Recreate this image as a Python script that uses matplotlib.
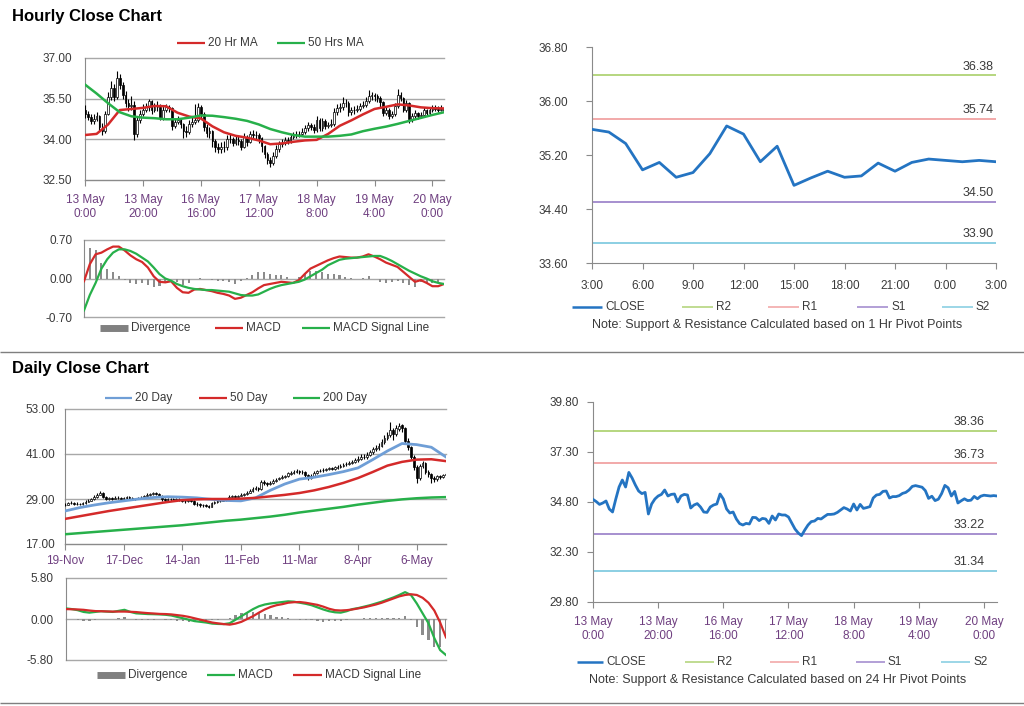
import matplotlib
matplotlib.use("Agg")
import matplotlib.pyplot as plt
from matplotlib.lines import Line2D
from matplotlib.ticker import FormatStrFormatter
import numpy as np

plt.rcParams['font.family'] = ['Liberation Sans', 'DejaVu Sans']

# ---------------- hourly data (13 May 0:00 .. 20 May ~4:00) ----------------
hourly_ticks = ["13 May\n0:00", "13 May\n20:00", "16 May\n16:00", "17 May\n12:00",
                "18 May\n8:00", "19 May\n4:00", "20 May\n0:00"]
hourly_first_open = 35.10
hourly_close = [
    34.93, 34.82, 34.68, 34.75, 34.85, 34.45, 34.30, 34.95, 35.55, 35.90,
    35.55, 36.28, 36.00, 35.65, 35.35, 35.22, 35.28, 34.20, 34.70, 34.95,
    35.10, 35.18, 35.40, 35.10, 35.18, 35.20, 34.80, 35.10, 35.18, 35.15,
    34.50, 34.65, 34.72, 34.55, 34.30, 34.28, 34.55, 34.65, 34.70, 35.20,
    34.95, 34.45, 34.25, 34.30, 33.95, 33.72, 33.65, 33.73, 33.70, 34.03,
    34.02, 33.87, 33.98, 33.95, 33.73, 34.10, 33.90, 34.20, 34.15, 34.15,
    34.05, 33.75, 33.45, 33.25, 33.12, 33.40, 33.65, 33.82, 33.85, 33.98,
    33.95, 34.07, 34.18, 34.18, 34.20, 34.28, 34.40, 34.52, 34.45, 34.35,
    34.70, 34.40, 34.68, 34.48, 34.52, 34.57, 35.00, 35.15, 35.18, 35.33,
    35.35, 35.00, 35.07, 35.07, 35.12, 35.23, 35.28, 35.40, 35.58, 35.62,
    35.58, 35.54, 35.37, 34.98, 35.09, 34.87, 34.94, 35.22, 35.63, 35.51,
    35.10, 35.33, 34.75, 34.86, 34.96, 34.87, 34.89, 35.08, 34.96, 35.09,
    35.14, 35.12, 35.10, 35.12, 35.10]
hourly_high = [
    35.28, 35.05, 34.95, 34.92, 35.02, 34.90, 34.60, 35.05, 35.75, 36.15,
    36.05, 36.52, 36.40, 36.10, 35.80, 35.50, 35.60, 35.40, 34.85, 35.10,
    35.30, 35.35, 35.50, 35.45, 35.35, 35.40, 35.30, 35.25, 35.30, 35.28,
    35.20, 34.80, 34.85, 34.80, 34.62, 34.50, 34.70, 34.85, 35.30, 35.33,
    35.25, 35.00, 34.55, 34.45, 34.35, 34.00, 33.85, 33.90, 33.95, 34.15,
    34.20, 34.10, 34.15, 34.12, 34.00, 34.22, 34.15, 34.30, 34.35, 34.30,
    34.25, 34.10, 33.80, 33.55, 33.35, 33.55, 33.80, 33.95, 34.00, 34.10,
    34.08, 34.20, 34.28, 34.30, 34.32, 34.40, 34.52, 34.65, 34.62, 34.55,
    34.85, 34.78, 34.80, 34.75, 34.65, 34.75, 35.15, 35.30, 35.35, 35.57,
    35.50, 35.40, 35.20, 35.22, 35.25, 35.35, 35.42, 35.55, 35.82, 35.75,
    35.72, 35.68, 35.60, 35.42, 35.20, 35.15, 35.05, 35.35, 35.84, 35.75,
    35.55, 35.45, 35.38, 34.98, 35.08, 35.02, 35.00, 35.18, 35.12, 35.20,
    35.25, 35.25, 35.22, 35.25, 35.22]
hourly_low = [
    34.80, 34.70, 34.55, 34.58, 34.66, 34.30, 34.15, 34.25, 34.90, 35.45,
    35.40, 35.50, 35.85, 35.50, 35.20, 35.05, 35.10, 33.97, 34.10, 34.60,
    34.85, 35.00, 35.05, 34.95, 35.00, 35.05, 34.70, 34.72, 35.00, 35.00,
    34.35, 34.40, 34.55, 34.40, 34.05, 34.10, 34.20, 34.45, 34.55, 34.65,
    34.80, 34.30, 34.10, 34.05, 33.70, 33.55, 33.48, 33.50, 33.55, 33.62,
    33.88, 33.75, 33.80, 33.80, 33.60, 33.68, 33.75, 33.85, 34.00, 34.00,
    33.85, 33.55, 33.30, 33.10, 32.99, 33.05, 33.30, 33.55, 33.70, 33.78,
    33.82, 33.88, 34.00, 34.05, 34.08, 34.12, 34.20, 34.32, 34.35, 34.22,
    34.28, 34.30, 34.32, 34.38, 34.40, 34.45, 34.50, 34.90, 35.02, 35.10,
    35.20, 34.85, 34.90, 34.95, 35.00, 35.05, 35.15, 35.20, 35.35, 35.45,
    35.42, 35.38, 35.20, 34.85, 34.88, 34.75, 34.78, 34.85, 35.15, 35.40,
    35.00, 35.02, 34.59, 34.65, 34.78, 34.75, 34.78, 34.82, 34.88, 34.90,
    35.02, 35.05, 35.02, 35.03, 35.02]

# moving averages, read every 4 hours
ma_hours = list(range(0, 125, 4))
ma_20h = [34.16, 34.20, 34.55, 35.08, 35.12, 35.16, 35.23, 35.22, 34.98, 34.84,
          34.77, 34.48, 34.26, 34.13, 34.06, 33.96, 33.82, 33.85, 33.91, 33.96,
          33.98, 34.20, 34.50, 34.70, 34.92, 35.12, 35.20, 35.29, 35.25, 35.18,
          35.15, 35.14]
ma_50h = [36.02, 35.69, 35.33, 35.00, 34.85, 34.80, 34.78, 34.74, 34.74, 34.80,
          34.88, 34.87, 34.82, 34.76, 34.68, 34.55, 34.38, 34.26, 34.16, 34.10,
          34.10, 34.10, 34.13, 34.18, 34.30, 34.39, 34.47, 34.57, 34.68, 34.79,
          34.90, 35.00]

# MACD, read every 2 hours
macd_hours = list(range(0, 125, 2))
hourly_macd = [-0.05, 0.26, 0.44, 0.47, 0.53, 0.58, 0.58, 0.51, 0.42, 0.35,
               0.30, 0.20, 0.04, -0.06, -0.07, -0.05, -0.17, -0.25, -0.26, -0.20,
               -0.19, -0.21, -0.23, -0.26, -0.28, -0.31, -0.37, -0.35, -0.30, -0.25,
               -0.18, -0.12, -0.10, -0.08, -0.06, -0.07, -0.08, -0.03, 0.08, 0.18,
               0.23, 0.28, 0.33, 0.37, 0.40, 0.39, 0.38, 0.38, 0.40, 0.44,
               0.40, 0.35, 0.29, 0.25, 0.21, 0.12, 0.03, -0.06, -0.03, -0.08,
               -0.14, -0.14, -0.10]
hourly_signal = [-0.58, -0.30, -0.08, 0.18, 0.35, 0.47, 0.53, 0.53, 0.50, 0.45,
                 0.38, 0.31, 0.20, 0.08, 0.00, -0.04, -0.10, -0.14, -0.17, -0.19,
                 -0.20, -0.21, -0.21, -0.22, -0.23, -0.24, -0.27, -0.30, -0.31, -0.31,
                 -0.29, -0.24, -0.19, -0.15, -0.12, -0.10, -0.08, -0.06, -0.02, 0.04,
                 0.10, 0.16, 0.24, 0.29, 0.34, 0.36, 0.37, 0.38, 0.39, 0.40,
                 0.41, 0.41, 0.37, 0.32, 0.26, 0.20, 0.14, 0.09, 0.04, 0.00,
                 -0.05, -0.08, -0.10]

# pivot charts
pivot_1h_ticks = ["3:00", "6:00", "9:00", "12:00", "15:00", "18:00", "21:00", "0:00", "3:00"]
pivot_1h_close = hourly_close[-25:]
pivot_1h_levels = [36.38, 35.74, 34.50, 33.90]
pivot_24h_levels = [38.36, 36.73, 33.22, 31.34]
level_names = ["R2", "R1", "S1", "S2"]

# ---------------- daily data (19-Nov .. 20-May) ----------------
daily_ticks = ["19-Nov", "17-Dec", "14-Jan", "11-Feb", "11-Mar", "8-Apr", "6-May"]
daily_first_open = 27.3
daily_close = [
    27.5, 27.9, 28.0, 27.7, 27.8, 27.6, 27.9, 28.3, 28.6, 29.0,
    29.6, 30.2, 30.6, 29.5, 29.0, 29.3, 29.1, 29.4, 29.2, 29.0,
    29.3, 29.5, 29.2, 29.0, 29.1, 29.3, 29.4, 29.8, 30.2, 30.3,
    30.5, 30.4, 29.9, 29.0, 28.7, 28.9, 29.1, 28.8, 29.0, 28.9,
    28.6, 28.4, 28.7, 28.5, 27.8, 27.6, 27.3, 27.5, 27.2, 27.0,
    27.9, 28.2, 28.4, 28.6, 28.8, 29.0, 29.6, 29.8, 29.5, 29.9,
    30.1, 30.3, 30.7, 31.2, 31.8, 32.0, 31.6, 33.6, 33.2, 33.0,
    33.4, 33.9, 34.2, 34.6, 34.9, 35.1, 35.8, 36.0, 36.2, 36.5,
    36.1, 36.3, 35.5, 34.7, 35.2, 36.0, 36.4, 36.6, 36.8, 37.0,
    37.2, 37.1, 37.4, 37.6, 37.9, 38.2, 38.4, 38.6, 38.9, 39.4,
    39.6, 40.3, 40.1, 40.8, 41.5, 42.2, 42.6, 43.1, 44.2, 45.3,
    46.0, 47.4, 46.2, 47.8, 48.6, 47.9, 44.5, 42.8, 40.3, 37.5,
    34.6, 37.8, 38.6, 36.2, 35.6, 34.6, 34.2, 35.0, 34.8, 35.3,
    35.6]
daily_high = [
    27.9, 28.3, 28.4, 28.2, 28.1, 28.0, 28.2, 28.7, 29.0, 29.4,
    30.0, 30.7, 31.2, 30.8, 29.8, 29.6, 29.6, 29.8, 29.7, 29.5,
    29.6, 29.9, 29.8, 29.5, 29.4, 29.6, 29.8, 30.2, 30.6, 30.7,
    31.0, 30.8, 30.6, 30.1, 29.2, 29.2, 29.4, 29.3, 29.3, 29.3,
    29.1, 28.9, 29.0, 28.9, 28.7, 28.1, 27.9, 27.8, 27.7, 27.4,
    28.2, 28.5, 28.7, 28.9, 29.1, 29.3, 30.0, 30.2, 30.1, 30.2,
    30.5, 30.7, 31.1, 31.7, 32.3, 32.5, 32.3, 34.1, 34.0, 33.6,
    33.8, 34.3, 34.6, 35.0, 35.3, 35.5, 36.2, 36.5, 36.7, 36.9,
    36.8, 36.7, 36.5, 35.8, 35.6, 36.4, 36.8, 37.0, 37.2, 37.4,
    37.6, 37.6, 37.8, 38.0, 38.4, 38.7, 38.9, 39.1, 39.4, 39.9,
    40.4, 41.1, 40.9, 41.5, 42.2, 42.9, 43.4, 43.9, 45.0, 46.2,
    47.0, 49.6, 48.0, 48.8, 49.3, 49.0, 48.2, 45.3, 43.2, 40.8,
    38.0, 38.4, 39.2, 38.9, 36.8, 35.9, 35.2, 35.4, 35.5, 35.8,
    36.1]
daily_low = [
    27.1, 27.3, 27.6, 27.4, 27.4, 27.3, 27.4, 27.7, 28.1, 28.4,
    28.8, 29.4, 30.0, 29.2, 28.7, 28.8, 28.8, 28.9, 28.9, 28.7,
    28.8, 29.1, 28.9, 28.7, 28.7, 28.9, 29.0, 29.2, 29.6, 29.9,
    30.1, 30.0, 29.5, 28.6, 28.3, 28.4, 28.6, 28.4, 28.5, 28.5,
    28.2, 28.0, 28.1, 28.1, 27.4, 27.2, 26.9, 27.0, 26.8, 26.6,
    26.8, 27.7, 28.0, 28.2, 28.4, 28.6, 28.8, 29.4, 29.2, 29.3,
    29.7, 29.9, 30.1, 30.5, 31.0, 31.5, 31.2, 31.4, 32.8, 32.5,
    32.7, 33.1, 33.6, 34.0, 34.3, 34.6, 34.9, 35.5, 35.7, 35.9,
    35.7, 35.8, 35.0, 34.2, 34.4, 35.0, 35.7, 36.1, 36.3, 36.5,
    36.7, 36.7, 36.8, 37.1, 37.3, 37.6, 37.9, 38.1, 38.3, 38.6,
    39.0, 39.3, 39.6, 39.8, 40.4, 41.1, 41.8, 42.2, 42.8, 43.8,
    44.8, 45.6, 44.8, 45.9, 47.2, 47.0, 43.8, 42.0, 39.6, 36.8,
    33.2, 34.2, 37.4, 35.6, 35.0, 33.4, 33.6, 33.9, 34.3, 34.6,
    35.1]

# moving averages, read every 5 days
dma_days = list(range(0, 131, 5))
ma_20d = [25.8, 26.7, 27.4, 28.0, 28.5, 29.0, 29.4, 29.6, 29.5, 29.3,
          28.9, 28.6, 28.5, 29.3, 31.3, 33.0, 34.3, 34.8, 35.5, 36.3,
          37.3, 39.5, 41.8, 43.8, 43.5, 42.8, 40.2]
ma_50d = [23.7, 24.4, 25.1, 25.8, 26.4, 27.0, 27.6, 28.2, 28.7, 28.9,
          29.0, 29.0, 29.1, 29.3, 29.7, 30.1, 30.6, 31.3, 32.2, 33.3,
          34.6, 36.2, 37.9, 38.9, 39.5, 39.6, 39.1]
ma_200d = [19.6, 19.9, 20.2, 20.5, 20.8, 21.1, 21.4, 21.7, 22.0, 22.4,
           22.8, 23.2, 23.5, 23.9, 24.3, 24.8, 25.4, 25.9, 26.4, 26.9,
           27.5, 28.0, 28.5, 28.9, 29.2, 29.4, 29.5]

# MACD, read every 2 days
dmacd_days = list(range(0, 131, 2))
daily_macd = [1.50, 1.40, 1.25, 1.00, 0.90, 1.00, 1.10, 1.05, 1.00, 1.15,
              1.30, 1.00, 0.80, 0.75, 0.70, 0.68, 0.65, 0.60, 0.50, 0.30,
              0.10, -0.10, -0.30, -0.40, -0.50, -0.65, -0.70, -0.72, -0.60, -0.10,
              0.40, 0.90, 1.40, 1.80, 2.05, 2.20, 2.30, 2.40, 2.50, 2.45,
              2.30, 2.15, 1.95, 1.65, 1.35, 1.10, 0.95, 0.90, 1.10, 1.40,
              1.55, 1.75, 1.95, 2.20, 2.45, 2.75, 3.05, 3.40, 3.80, 3.40,
              2.20, 0.80, -0.60, -2.70, -4.40, -5.10]
daily_signal = [1.40, 1.38, 1.35, 1.30, 1.20, 1.12, 1.10, 1.07, 1.05, 1.05,
                1.05, 1.02, 0.98, 0.90, 0.83, 0.78, 0.72, 0.70, 0.65, 0.55,
                0.45, 0.30, 0.10, -0.10, -0.30, -0.50, -0.62, -0.72, -0.80, -0.65,
                -0.40, 0.00, 0.40, 0.90, 1.35, 1.70, 1.95, 2.10, 2.30, 2.38,
                2.40, 2.30, 2.15, 2.00, 1.75, 1.45, 1.25, 1.20, 1.25, 1.35,
                1.50, 1.65, 1.85, 2.05, 2.30, 2.60, 2.90, 3.20, 3.40, 3.50,
                3.40, 3.00, 2.30, 1.20, -0.50, -2.60]

# ---------------- styling ----------------
W, H = 1024, 706
TEXT = "#3a3a3a"
DATE = "#6f3f80"
AXIS = "#8a8a8a"
GRID = "#a8a8a8"
RED = "#d42a2a"
GREEN = "#27b04a"
BLUE20 = "#6f9ed6"
CLOSE_BLUE = "#2474c2"
DIV_GRAY = "#8c8c8c"
LEVEL_COLORS = ["#b5d67f", "#f2a9a9", "#a68fcf", "#8bcfe3"]

fig = plt.figure(figsize=(W / 100, H / 100), dpi=100)


def add_axes(left, top, right, bottom):
    return fig.add_axes([left / W, 1 - bottom / H, (right - left) / W, (bottom - top) / H])


def fig_line(x0, x1, y, color, lw):
    fig.add_artist(Line2D([x0 / W, x1 / W], [1 - y / H, 1 - y / H], color=color, lw=lw,
                          solid_capstyle="butt", transform=fig.transFigure))


def fig_text(x, y, s, **kw):
    kw.setdefault("fontsize", 8.5)
    kw.setdefault("color", TEXT)
    kw.setdefault("va", "center")
    fig.text(x / W, 1 - y / H, s, **kw)


def legend(items, y):
    for x0, x1, color, lw, label in items:
        fig_line(x0, x1, y, color, lw)
        fig_text(x1 + 3, y, label)


def candles(ax, first_open, close, high, low):
    close = np.asarray(close)
    x = np.arange(len(close))
    opens = np.concatenate([[first_open], close[:-1]])
    ax.vlines(x, low, high, color="black", lw=0.8, zorder=3)
    body = close - opens
    up = body >= 0
    ax.bar(x[up], body[up], bottom=opens[up], width=0.6, facecolor="white",
           edgecolor="black", lw=0.5, zorder=4)
    ax.bar(x[~up], body[~up], bottom=opens[~up], width=0.6, facecolor="black",
           edgecolor="black", lw=0.5, zorder=4)


def style_left(ax, yticks, ypad, show_x=True):
    ax.set_ylim(yticks[0], yticks[-1])
    ax.set_yticks(yticks)
    ax.yaxis.set_major_formatter(FormatStrFormatter("%.2f"))
    for v in yticks:
        ax.axhline(v, color=GRID, lw=1, zorder=1, clip_on=False)
    for s in ("top", "right"):
        ax.spines[s].set_visible(False)
    ax.spines["left"].set_color(AXIS)
    ax.spines["bottom"].set_color(AXIS)
    ax.tick_params(axis="y", length=0, pad=ypad, labelsize=8.5, labelcolor=TEXT)
    if show_x:
        ax.tick_params(axis="x", length=4, color=AXIS, labelsize=8.5, labelcolor=DATE)
    else:
        ax.spines["bottom"].set_visible(False)
        ax.tick_params(axis="x", bottom=False, labelbottom=False)


def style_right(ax, yticks, ypad, xpad, xcolor):
    ax.set_ylim(yticks[0], yticks[-1])
    ax.set_yticks(yticks)
    ax.yaxis.set_major_formatter(FormatStrFormatter("%.2f"))
    for s in ("top", "right"):
        ax.spines[s].set_visible(False)
    ax.spines["left"].set_color(AXIS)
    ax.spines["bottom"].set_color(AXIS)
    ax.tick_params(length=4, color=AXIS, labelsize=8.5, labelcolor=TEXT)
    ax.tick_params(axis="y", pad=ypad)
    ax.tick_params(axis="x", pad=xpad, labelcolor=xcolor)


def draw_levels(ax, values, dx):
    for v, c in zip(values, LEVEL_COLORS):
        ax.axhline(v, color=c, lw=1.4, zorder=2)
        ax.annotate(f"{v:.2f}", xy=(1, v), xycoords=("axes fraction", "data"),
                    xytext=(dx, 2), textcoords="offset points", ha="right", va="bottom",
                    fontsize=9, color=TEXT)


# ---------------- Hourly section ----------------
fig_text(12, 16, "Hourly Close Chart", fontsize=12, fontweight="bold", color="black")

ax = add_axes(85, 58, 444, 180)
candles(ax, hourly_first_open, hourly_close, hourly_high, hourly_low)
ax.plot(ma_hours, ma_20h, color=RED, lw=1.8, zorder=5)
ax.plot(ma_hours, ma_50h, color=GREEN, lw=1.8, zorder=5)
ax.set_xlim(0, len(hourly_close) - 1)
ax.set_xticks(range(0, 121, 20))
ax.set_xticklabels(hourly_ticks)
style_left(ax, [32.5, 34.0, 35.5, 37.0], 9)
ax.tick_params(axis="x", pad=6)
legend([(177, 205, RED, 1.6, "20 Hr MA"), (277, 305, GREEN, 1.6, "50 Hrs MA")], 43)

ax = add_axes(84, 240, 444, 317)
div = np.array(hourly_macd) - np.array(hourly_signal)
ax.bar(macd_hours, div, width=0.7, color=DIV_GRAY, zorder=2)
ax.plot(macd_hours, hourly_macd, color=RED, lw=1.6, zorder=4)
ax.plot(macd_hours, hourly_signal, color=GREEN, lw=1.6, zorder=4)
ax.set_xlim(0, len(hourly_close) - 1)
style_left(ax, [-0.7, 0.0, 0.7], 8.5, show_x=False)
legend([(100, 128, "#808080", 5, "Divergence"), (215, 243, RED, 1.6, "MACD"),
        (302, 330, GREEN, 1.6, "MACD Signal Line")], 328)

ax = add_axes(592, 47, 996, 263)
ax.plot(range(len(pivot_1h_close)), pivot_1h_close, color=CLOSE_BLUE, lw=2, zorder=3)
draw_levels(ax, pivot_1h_levels, -2)
ax.set_xlim(0, len(pivot_1h_close) - 1)
ax.set_xticks(range(0, 25, 3))
ax.set_xticklabels(pivot_1h_ticks)
style_right(ax, [33.6, 34.4, 35.2, 36.0, 36.8], 13, 8, TEXT)
legend([(572, 602, CLOSE_BLUE, 1.8, "CLOSE")] +
       [(x0, x0 + 31, c, 1.2, n) for x0, c, n in zip([682, 768, 857, 942], LEVEL_COLORS, level_names)],
       307)
fig_text(777, 325, "Note: Support & Resistance Calculated based on 1 Hr Pivot Points",
         ha="center", fontsize=9)

fig_line(0, W, 352, "#7f7f7f", 1)

# ---------------- Daily section ----------------
fig_text(12, 369, "Daily Close Chart", fontsize=12, fontweight="bold", color="black")

ax = add_axes(65, 409, 446, 544)
candles(ax, daily_first_open, daily_close, daily_high, daily_low)
ax.plot(dma_days, ma_20d, color=BLUE20, lw=2, zorder=5)
ax.plot(dma_days, ma_50d, color=RED, lw=1.8, zorder=5)
ax.plot(dma_days, ma_200d, color=GREEN, lw=1.8, zorder=5)
ax.set_xlim(0, len(daily_close) - 1)
ax.set_xticks(range(0, 121, 20))
ax.set_xticklabels(daily_ticks)
style_left(ax, [17.0, 29.0, 41.0, 53.0], 7)
ax.tick_params(axis="x", pad=4)
legend([(105, 132, BLUE20, 1.6, "20 Day"), (199, 227, RED, 1.6, "50 Day"),
        (293, 320, GREEN, 1.6, "200 Day")], 398)

ax = add_axes(66, 578, 446, 660)
div = np.array(daily_macd) - np.array(daily_signal)
ax.bar(dmacd_days, div, width=0.8, color=DIV_GRAY, zorder=2)
ax.plot(dmacd_days, daily_macd, color=GREEN, lw=1.6, zorder=4)
ax.plot(dmacd_days, daily_signal, color=RED, lw=1.6, zorder=4)
ax.set_xlim(0, len(daily_close) - 1)
style_left(ax, [-5.8, 0.0, 5.8], 9, show_x=False)
legend([(97, 125, "#808080", 5, "Divergence"), (207, 235, GREEN, 1.6, "MACD"),
        (293, 322, RED, 1.6, "MACD Signal Line")], 675)

ax = add_axes(593, 402, 997, 602)
ax.plot(range(len(hourly_close)), hourly_close, color=CLOSE_BLUE, lw=2, zorder=3)
draw_levels(ax, pivot_24h_levels, -9)
ax.set_xlim(0, len(hourly_close) - 1)
ax.set_xticks(range(0, 121, 20))
ax.set_xticklabels(hourly_ticks)
style_right(ax, [29.8, 32.3, 34.8, 37.3, 39.8], 6, 6, DATE)
legend([(577, 603, CLOSE_BLUE, 1.8, "CLOSE")] +
       [(x0, x0 + 29, c, 1.2, n) for x0, c, n in zip([685, 770, 856, 941], LEVEL_COLORS, level_names)],
       662)
fig_text(778, 680, "Note: Support & Resistance Calculated based on 24 Hr Pivot Points",
         ha="center", fontsize=9)

fig_line(0, W, 703, "#7f7f7f", 1)

fig.savefig("out.png", dpi=100)
